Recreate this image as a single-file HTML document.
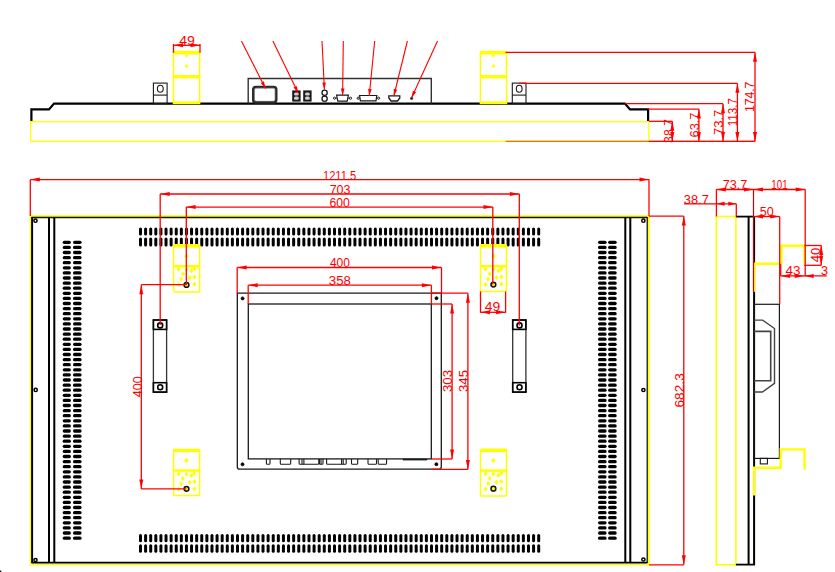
<!DOCTYPE html>
<html><head><meta charset="utf-8"><style>
html,body{margin:0;padding:0;background:#fff;width:835px;height:572px;overflow:hidden}
svg{display:block}
text{font-family:"Liberation Sans",sans-serif}
</style></head><body>
<svg width="835" height="572" viewBox="0 0 835 572">
<rect x="0" y="0" width="835" height="572" fill="#ffffff"/>
<rect x="30.70" y="121.70" width="618.20" height="19.60" rx="0" fill="none" stroke="#ffff00" stroke-width="1.3"/>
<polyline points="31.40,121.00 31.40,109.40 49.00,109.40 54.00,103.60 625.00,103.60 630.00,109.40 648.10,109.40 648.10,121.00" fill="none" stroke="#000000" stroke-width="2.2" stroke-linejoin="miter"/>
<rect x="153.40" y="83.10" width="13.70" height="20.50" rx="0" fill="none" stroke="#1a1a1a" stroke-width="1.1"/>
<line x1="153.40" y1="95.10" x2="167.10" y2="95.10" stroke="#1a1a1a" stroke-width="1.1"/>
<ellipse cx="160.30" cy="88.7" rx="2.9" ry="3.5" fill="none" stroke="#1a1a1a" stroke-width="1.1"/>
<rect x="512.30" y="83.10" width="13.70" height="20.50" rx="0" fill="none" stroke="#1a1a1a" stroke-width="1.1"/>
<line x1="512.30" y1="95.10" x2="526.00" y2="95.10" stroke="#1a1a1a" stroke-width="1.1"/>
<ellipse cx="519.20" cy="88.7" rx="2.9" ry="3.5" fill="none" stroke="#1a1a1a" stroke-width="1.1"/>
<rect x="173.50" y="51.60" width="26.10" height="51.80" rx="0" fill="none" stroke="#ffff00" stroke-width="1.5"/>
<rect x="173.50" y="51.20" width="26.10" height="3.30" rx="0" fill="#ffff00"/>
<rect x="173.50" y="75.00" width="26.10" height="3.40" rx="0" fill="#ffff00"/>
<rect x="173.50" y="101.40" width="26.10" height="2.60" rx="0" fill="#ffff00"/>
<line x1="184.55" y1="66.00" x2="188.55" y2="66.00" stroke="#ffff00" stroke-width="1.2"/>
<line x1="186.55" y1="64.00" x2="186.55" y2="68.00" stroke="#ffff00" stroke-width="1.2"/>
<line x1="185.05" y1="55.50" x2="188.05" y2="55.50" stroke="#ffff00" stroke-width="1.2"/>
<line x1="186.55" y1="55.00" x2="186.55" y2="57.50" stroke="#ffff00" stroke-width="1.2"/>
<rect x="480.40" y="51.60" width="26.10" height="51.80" rx="0" fill="none" stroke="#ffff00" stroke-width="1.5"/>
<rect x="480.40" y="51.20" width="26.10" height="3.30" rx="0" fill="#ffff00"/>
<rect x="480.40" y="75.00" width="26.10" height="3.40" rx="0" fill="#ffff00"/>
<rect x="480.40" y="101.40" width="26.10" height="2.60" rx="0" fill="#ffff00"/>
<line x1="491.45" y1="66.00" x2="495.45" y2="66.00" stroke="#ffff00" stroke-width="1.2"/>
<line x1="493.45" y1="64.00" x2="493.45" y2="68.00" stroke="#ffff00" stroke-width="1.2"/>
<line x1="491.95" y1="55.50" x2="494.95" y2="55.50" stroke="#ffff00" stroke-width="1.2"/>
<line x1="493.45" y1="55.00" x2="493.45" y2="57.50" stroke="#ffff00" stroke-width="1.2"/>
<line x1="173.50" y1="45.30" x2="200.00" y2="45.30" stroke="#ff0000" stroke-width="1.3"/>
<line x1="173.50" y1="44.00" x2="173.50" y2="52.80" stroke="#ff0000" stroke-width="1.3"/>
<line x1="200.00" y1="44.00" x2="200.00" y2="52.80" stroke="#ff0000" stroke-width="1.3"/>
<polygon points="173.50,45.30 183.00,43.30 183.00,47.30" fill="#ff0000"/>
<polygon points="200.00,45.30 190.50,47.30 190.50,43.30" fill="#ff0000"/>
<text x="187.00" y="44.80" text-anchor="middle" font-size="12.5" fill="#ff0000" textLength="15.7" lengthAdjust="spacingAndGlyphs">49</text>
<polyline points="248.20,103.60 248.20,78.50 431.30,78.50 431.30,103.60" fill="none" stroke="#333" stroke-width="1.4" stroke-linejoin="miter"/>
<rect x="253.30" y="87.00" width="22.90" height="15.40" rx="2.6" fill="none" stroke="#2a2a2a" stroke-width="2.6"/>
<rect x="254.40" y="88.10" width="20.70" height="13.20" rx="2" fill="none" stroke="#888" stroke-width="0.6"/>
<rect x="292.20" y="90.40" width="8.40" height="11.20" rx="0" fill="#1a1a1a"/>
<rect x="294.00" y="92.40" width="4.80" height="3.20" rx="1.5" fill="#cfcfcf"/>
<rect x="294.00" y="96.60" width="4.80" height="3.20" rx="1.5" fill="#cfcfcf"/>
<rect x="303.20" y="90.40" width="8.40" height="11.20" rx="0" fill="#1a1a1a"/>
<rect x="305.00" y="92.40" width="4.80" height="3.20" rx="1.5" fill="#cfcfcf"/>
<rect x="305.00" y="96.60" width="4.80" height="3.20" rx="1.5" fill="#cfcfcf"/>
<circle cx="324.60" cy="92.80" r="2.6" fill="none" stroke="#1a1a1a" stroke-width="1.3"/>
<circle cx="324.60" cy="98.80" r="2.6" fill="none" stroke="#1a1a1a" stroke-width="1.3"/>
<polygon points="336.60,95.20 348.40,95.20 347.20,101.20 337.80,101.20" fill="none" stroke="#1a1a1a" stroke-width="1.2" stroke-linejoin="miter"/>
<circle cx="334.50" cy="98.20" r="1.1" fill="none" stroke="#1a1a1a" stroke-width="1"/>
<circle cx="350.50" cy="98.20" r="1.1" fill="none" stroke="#1a1a1a" stroke-width="1"/>
<line x1="335.60" y1="98.20" x2="336.80" y2="98.20" stroke="#1a1a1a" stroke-width="1"/>
<line x1="348.20" y1="98.20" x2="349.40" y2="98.20" stroke="#1a1a1a" stroke-width="1"/>
<polygon points="359.60,95.50 376.80,95.50 376.00,100.80 360.40,100.80" fill="none" stroke="#1a1a1a" stroke-width="1.2" stroke-linejoin="miter"/>
<circle cx="358.20" cy="98.20" r="1.1" fill="none" stroke="#1a1a1a" stroke-width="1"/>
<circle cx="378.60" cy="98.20" r="1.1" fill="none" stroke="#1a1a1a" stroke-width="1"/>
<polygon points="388.80,95.80 399.80,95.80 399.80,98.00 397.50,101.00 391.00,101.00 388.80,98.00" fill="none" stroke="#1a1a1a" stroke-width="1.3" stroke-linejoin="miter"/>
<circle cx="411.60" cy="98.40" r="1.2" fill="#1a1a1a" stroke="#1a1a1a" stroke-width="0.5"/>
<line x1="241.40" y1="41.00" x2="265.50" y2="88.40" stroke="#ff0000" stroke-width="1.1"/>
<polygon points="265.50,88.40 260.72,82.98 263.93,81.34" fill="#ff0000"/>
<line x1="272.90" y1="41.00" x2="298.20" y2="93.00" stroke="#ff0000" stroke-width="1.1"/>
<polygon points="298.20,93.00 293.52,87.49 296.76,85.92" fill="#ff0000"/>
<line x1="322.00" y1="41.00" x2="324.40" y2="89.60" stroke="#ff0000" stroke-width="1.1"/>
<polygon points="324.40,89.60 322.26,82.70 325.85,82.52" fill="#ff0000"/>
<line x1="343.30" y1="41.00" x2="342.60" y2="95.50" stroke="#ff0000" stroke-width="1.1"/>
<polygon points="342.60,95.50 340.89,88.48 344.49,88.52" fill="#ff0000"/>
<line x1="374.70" y1="41.00" x2="369.20" y2="96.00" stroke="#ff0000" stroke-width="1.1"/>
<polygon points="369.20,96.00 368.11,88.86 371.69,89.21" fill="#ff0000"/>
<line x1="407.40" y1="41.00" x2="393.80" y2="96.00" stroke="#ff0000" stroke-width="1.1"/>
<polygon points="393.80,96.00 393.73,88.77 397.23,89.64" fill="#ff0000"/>
<line x1="437.50" y1="41.00" x2="411.60" y2="97.80" stroke="#ff0000" stroke-width="1.1"/>
<polygon points="411.60,97.80 412.87,90.68 416.14,92.18" fill="#ff0000"/>
<line x1="505.50" y1="52.30" x2="755.00" y2="52.30" stroke="#ff0000" stroke-width="1.3"/>
<line x1="519.30" y1="83.30" x2="737.40" y2="83.30" stroke="#ff0000" stroke-width="1.3"/>
<line x1="625.00" y1="103.70" x2="723.00" y2="103.70" stroke="#ff0000" stroke-width="1.3"/>
<line x1="648.00" y1="109.10" x2="698.90" y2="109.10" stroke="#ff0000" stroke-width="1.3"/>
<line x1="648.90" y1="121.30" x2="672.30" y2="121.30" stroke="#ff0000" stroke-width="1.3"/>
<line x1="505.50" y1="141.40" x2="755.00" y2="141.40" stroke="#ff6a00" stroke-width="1.2"/>
<line x1="648.90" y1="141.40" x2="755.00" y2="141.40" stroke="#ff0000" stroke-width="1.3"/>
<line x1="755.00" y1="52.30" x2="755.00" y2="141.40" stroke="#ff0000" stroke-width="1.3"/>
<polygon points="755.00,52.30 757.00,61.80 753.00,61.80" fill="#ff0000"/>
<polygon points="755.00,141.40 753.00,131.90 757.00,131.90" fill="#ff0000"/>
<line x1="737.40" y1="83.30" x2="737.40" y2="141.40" stroke="#ff0000" stroke-width="1.3"/>
<polygon points="737.40,83.30 739.40,92.80 735.40,92.80" fill="#ff0000"/>
<polygon points="737.40,141.40 735.40,131.90 739.40,131.90" fill="#ff0000"/>
<line x1="723.00" y1="103.70" x2="723.00" y2="141.40" stroke="#ff0000" stroke-width="1.3"/>
<polygon points="723.00,103.70 725.00,113.20 721.00,113.20" fill="#ff0000"/>
<polygon points="723.00,141.40 721.00,131.90 725.00,131.90" fill="#ff0000"/>
<line x1="698.90" y1="109.10" x2="698.90" y2="141.40" stroke="#ff0000" stroke-width="1.3"/>
<polygon points="698.90,109.10 700.90,118.60 696.90,118.60" fill="#ff0000"/>
<polygon points="698.90,141.40 696.90,131.90 700.90,131.90" fill="#ff0000"/>
<line x1="672.30" y1="121.30" x2="672.30" y2="141.40" stroke="#ff0000" stroke-width="1.3"/>
<polygon points="672.30,121.30 674.30,130.80 670.30,130.80" fill="#ff0000"/>
<polygon points="672.30,141.40 670.30,131.90 674.30,131.90" fill="#ff0000"/>
<text x="0" y="0" transform="translate(754.30,96.90) rotate(-90)" text-anchor="middle" font-size="12.5" fill="#ff0000" textLength="30.4" lengthAdjust="spacingAndGlyphs">174.7</text>
<text x="0" y="0" transform="translate(737.40,112.20) rotate(-90)" text-anchor="middle" font-size="12.5" fill="#ff0000" textLength="28" lengthAdjust="spacingAndGlyphs">113.7</text>
<text x="0" y="0" transform="translate(722.50,122.40) rotate(-90)" text-anchor="middle" font-size="12.5" fill="#ff0000" textLength="25.4" lengthAdjust="spacingAndGlyphs">73.7</text>
<text x="0" y="0" transform="translate(698.60,125.00) rotate(-90)" text-anchor="middle" font-size="12.5" fill="#ff0000" textLength="25" lengthAdjust="spacingAndGlyphs">63.7</text>
<text x="0" y="0" transform="translate(672.60,131.00) rotate(-90)" text-anchor="middle" font-size="12.5" fill="#ff0000" textLength="23.9" lengthAdjust="spacingAndGlyphs">38.7</text>
<rect x="30.60" y="216.10" width="618.20" height="348.30" rx="0" fill="none" stroke="#ffff00" stroke-width="1.8"/>
<line x1="31.60" y1="217.50" x2="647.30" y2="217.50" stroke="#111" stroke-width="1.3"/>
<line x1="31.60" y1="562.60" x2="647.30" y2="562.60" stroke="#000000" stroke-width="1.8"/>
<line x1="32.10" y1="217.00" x2="32.10" y2="563.00" stroke="#000000" stroke-width="2"/>
<line x1="647.20" y1="217.00" x2="647.20" y2="563.00" stroke="#000000" stroke-width="1.2"/>
<line x1="49.00" y1="217.50" x2="49.00" y2="562.50" stroke="#000000" stroke-width="2"/>
<line x1="54.30" y1="217.50" x2="54.30" y2="562.50" stroke="#000000" stroke-width="2"/>
<line x1="625.30" y1="217.50" x2="625.30" y2="562.50" stroke="#000000" stroke-width="2"/>
<line x1="630.30" y1="217.50" x2="630.30" y2="562.50" stroke="#000000" stroke-width="2"/>
<circle cx="35.50" cy="220.70" r="1.6" fill="none" stroke="#000000" stroke-width="1.5"/>
<circle cx="35.70" cy="389.90" r="1.6" fill="none" stroke="#000000" stroke-width="1.5"/>
<circle cx="35.50" cy="560.00" r="1.6" fill="none" stroke="#000000" stroke-width="1.5"/>
<circle cx="643.40" cy="220.70" r="1.6" fill="none" stroke="#000000" stroke-width="1.5"/>
<circle cx="643.40" cy="390.00" r="1.6" fill="none" stroke="#000000" stroke-width="1.5"/>
<circle cx="643.40" cy="559.50" r="1.6" fill="none" stroke="#000000" stroke-width="1.5"/>
<rect x="62.70" y="240.65" width="8.20" height="3.30" rx="1.6" fill="#000000"/>
<rect x="73.00" y="240.65" width="8.60" height="3.30" rx="1.6" fill="#000000"/>
<rect x="598.00" y="240.65" width="8.60" height="3.30" rx="1.6" fill="#000000"/>
<rect x="608.10" y="240.65" width="8.60" height="3.30" rx="1.6" fill="#000000"/>
<rect x="62.70" y="245.75" width="8.20" height="3.30" rx="1.6" fill="#000000"/>
<rect x="73.00" y="245.75" width="8.60" height="3.30" rx="1.6" fill="#000000"/>
<rect x="598.00" y="245.75" width="8.60" height="3.30" rx="1.6" fill="#000000"/>
<rect x="608.10" y="245.75" width="8.60" height="3.30" rx="1.6" fill="#000000"/>
<rect x="62.70" y="250.85" width="8.20" height="3.30" rx="1.6" fill="#000000"/>
<rect x="73.00" y="250.85" width="8.60" height="3.30" rx="1.6" fill="#000000"/>
<rect x="598.00" y="250.85" width="8.60" height="3.30" rx="1.6" fill="#000000"/>
<rect x="608.10" y="250.85" width="8.60" height="3.30" rx="1.6" fill="#000000"/>
<rect x="62.70" y="255.95" width="8.20" height="3.30" rx="1.6" fill="#000000"/>
<rect x="73.00" y="255.95" width="8.60" height="3.30" rx="1.6" fill="#000000"/>
<rect x="598.00" y="255.95" width="8.60" height="3.30" rx="1.6" fill="#000000"/>
<rect x="608.10" y="255.95" width="8.60" height="3.30" rx="1.6" fill="#000000"/>
<rect x="62.70" y="261.05" width="8.20" height="3.30" rx="1.6" fill="#000000"/>
<rect x="73.00" y="261.05" width="8.60" height="3.30" rx="1.6" fill="#000000"/>
<rect x="598.00" y="261.05" width="8.60" height="3.30" rx="1.6" fill="#000000"/>
<rect x="608.10" y="261.05" width="8.60" height="3.30" rx="1.6" fill="#000000"/>
<rect x="62.70" y="266.15" width="8.20" height="3.30" rx="1.6" fill="#000000"/>
<rect x="73.00" y="266.15" width="8.60" height="3.30" rx="1.6" fill="#000000"/>
<rect x="598.00" y="266.15" width="8.60" height="3.30" rx="1.6" fill="#000000"/>
<rect x="608.10" y="266.15" width="8.60" height="3.30" rx="1.6" fill="#000000"/>
<rect x="62.70" y="271.25" width="8.20" height="3.30" rx="1.6" fill="#000000"/>
<rect x="73.00" y="271.25" width="8.60" height="3.30" rx="1.6" fill="#000000"/>
<rect x="598.00" y="271.25" width="8.60" height="3.30" rx="1.6" fill="#000000"/>
<rect x="608.10" y="271.25" width="8.60" height="3.30" rx="1.6" fill="#000000"/>
<rect x="62.70" y="276.35" width="8.20" height="3.30" rx="1.6" fill="#000000"/>
<rect x="73.00" y="276.35" width="8.60" height="3.30" rx="1.6" fill="#000000"/>
<rect x="598.00" y="276.35" width="8.60" height="3.30" rx="1.6" fill="#000000"/>
<rect x="608.10" y="276.35" width="8.60" height="3.30" rx="1.6" fill="#000000"/>
<rect x="62.70" y="281.45" width="8.20" height="3.30" rx="1.6" fill="#000000"/>
<rect x="73.00" y="281.45" width="8.60" height="3.30" rx="1.6" fill="#000000"/>
<rect x="598.00" y="281.45" width="8.60" height="3.30" rx="1.6" fill="#000000"/>
<rect x="608.10" y="281.45" width="8.60" height="3.30" rx="1.6" fill="#000000"/>
<rect x="62.70" y="286.55" width="8.20" height="3.30" rx="1.6" fill="#000000"/>
<rect x="73.00" y="286.55" width="8.60" height="3.30" rx="1.6" fill="#000000"/>
<rect x="598.00" y="286.55" width="8.60" height="3.30" rx="1.6" fill="#000000"/>
<rect x="608.10" y="286.55" width="8.60" height="3.30" rx="1.6" fill="#000000"/>
<rect x="62.70" y="291.65" width="8.20" height="3.30" rx="1.6" fill="#000000"/>
<rect x="73.00" y="291.65" width="8.60" height="3.30" rx="1.6" fill="#000000"/>
<rect x="598.00" y="291.65" width="8.60" height="3.30" rx="1.6" fill="#000000"/>
<rect x="608.10" y="291.65" width="8.60" height="3.30" rx="1.6" fill="#000000"/>
<rect x="62.70" y="296.75" width="8.20" height="3.30" rx="1.6" fill="#000000"/>
<rect x="73.00" y="296.75" width="8.60" height="3.30" rx="1.6" fill="#000000"/>
<rect x="598.00" y="296.75" width="8.60" height="3.30" rx="1.6" fill="#000000"/>
<rect x="608.10" y="296.75" width="8.60" height="3.30" rx="1.6" fill="#000000"/>
<rect x="62.70" y="301.85" width="8.20" height="3.30" rx="1.6" fill="#000000"/>
<rect x="73.00" y="301.85" width="8.60" height="3.30" rx="1.6" fill="#000000"/>
<rect x="598.00" y="301.85" width="8.60" height="3.30" rx="1.6" fill="#000000"/>
<rect x="608.10" y="301.85" width="8.60" height="3.30" rx="1.6" fill="#000000"/>
<rect x="62.70" y="306.95" width="8.20" height="3.30" rx="1.6" fill="#000000"/>
<rect x="73.00" y="306.95" width="8.60" height="3.30" rx="1.6" fill="#000000"/>
<rect x="598.00" y="306.95" width="8.60" height="3.30" rx="1.6" fill="#000000"/>
<rect x="608.10" y="306.95" width="8.60" height="3.30" rx="1.6" fill="#000000"/>
<rect x="62.70" y="312.05" width="8.20" height="3.30" rx="1.6" fill="#000000"/>
<rect x="73.00" y="312.05" width="8.60" height="3.30" rx="1.6" fill="#000000"/>
<rect x="598.00" y="312.05" width="8.60" height="3.30" rx="1.6" fill="#000000"/>
<rect x="608.10" y="312.05" width="8.60" height="3.30" rx="1.6" fill="#000000"/>
<rect x="62.70" y="317.15" width="8.20" height="3.30" rx="1.6" fill="#000000"/>
<rect x="73.00" y="317.15" width="8.60" height="3.30" rx="1.6" fill="#000000"/>
<rect x="598.00" y="317.15" width="8.60" height="3.30" rx="1.6" fill="#000000"/>
<rect x="608.10" y="317.15" width="8.60" height="3.30" rx="1.6" fill="#000000"/>
<rect x="62.70" y="322.25" width="8.20" height="3.30" rx="1.6" fill="#000000"/>
<rect x="73.00" y="322.25" width="8.60" height="3.30" rx="1.6" fill="#000000"/>
<rect x="598.00" y="322.25" width="8.60" height="3.30" rx="1.6" fill="#000000"/>
<rect x="608.10" y="322.25" width="8.60" height="3.30" rx="1.6" fill="#000000"/>
<rect x="62.70" y="327.35" width="8.20" height="3.30" rx="1.6" fill="#000000"/>
<rect x="73.00" y="327.35" width="8.60" height="3.30" rx="1.6" fill="#000000"/>
<rect x="598.00" y="327.35" width="8.60" height="3.30" rx="1.6" fill="#000000"/>
<rect x="608.10" y="327.35" width="8.60" height="3.30" rx="1.6" fill="#000000"/>
<rect x="62.70" y="332.45" width="8.20" height="3.30" rx="1.6" fill="#000000"/>
<rect x="73.00" y="332.45" width="8.60" height="3.30" rx="1.6" fill="#000000"/>
<rect x="598.00" y="332.45" width="8.60" height="3.30" rx="1.6" fill="#000000"/>
<rect x="608.10" y="332.45" width="8.60" height="3.30" rx="1.6" fill="#000000"/>
<rect x="62.70" y="337.55" width="8.20" height="3.30" rx="1.6" fill="#000000"/>
<rect x="73.00" y="337.55" width="8.60" height="3.30" rx="1.6" fill="#000000"/>
<rect x="598.00" y="337.55" width="8.60" height="3.30" rx="1.6" fill="#000000"/>
<rect x="608.10" y="337.55" width="8.60" height="3.30" rx="1.6" fill="#000000"/>
<rect x="62.70" y="342.65" width="8.20" height="3.30" rx="1.6" fill="#000000"/>
<rect x="73.00" y="342.65" width="8.60" height="3.30" rx="1.6" fill="#000000"/>
<rect x="598.00" y="342.65" width="8.60" height="3.30" rx="1.6" fill="#000000"/>
<rect x="608.10" y="342.65" width="8.60" height="3.30" rx="1.6" fill="#000000"/>
<rect x="62.70" y="347.75" width="8.20" height="3.30" rx="1.6" fill="#000000"/>
<rect x="73.00" y="347.75" width="8.60" height="3.30" rx="1.6" fill="#000000"/>
<rect x="598.00" y="347.75" width="8.60" height="3.30" rx="1.6" fill="#000000"/>
<rect x="608.10" y="347.75" width="8.60" height="3.30" rx="1.6" fill="#000000"/>
<rect x="62.70" y="352.85" width="8.20" height="3.30" rx="1.6" fill="#000000"/>
<rect x="73.00" y="352.85" width="8.60" height="3.30" rx="1.6" fill="#000000"/>
<rect x="598.00" y="352.85" width="8.60" height="3.30" rx="1.6" fill="#000000"/>
<rect x="608.10" y="352.85" width="8.60" height="3.30" rx="1.6" fill="#000000"/>
<rect x="62.70" y="357.95" width="8.20" height="3.30" rx="1.6" fill="#000000"/>
<rect x="73.00" y="357.95" width="8.60" height="3.30" rx="1.6" fill="#000000"/>
<rect x="598.00" y="357.95" width="8.60" height="3.30" rx="1.6" fill="#000000"/>
<rect x="608.10" y="357.95" width="8.60" height="3.30" rx="1.6" fill="#000000"/>
<rect x="62.70" y="363.05" width="8.20" height="3.30" rx="1.6" fill="#000000"/>
<rect x="73.00" y="363.05" width="8.60" height="3.30" rx="1.6" fill="#000000"/>
<rect x="598.00" y="363.05" width="8.60" height="3.30" rx="1.6" fill="#000000"/>
<rect x="608.10" y="363.05" width="8.60" height="3.30" rx="1.6" fill="#000000"/>
<rect x="62.70" y="368.15" width="8.20" height="3.30" rx="1.6" fill="#000000"/>
<rect x="73.00" y="368.15" width="8.60" height="3.30" rx="1.6" fill="#000000"/>
<rect x="598.00" y="368.15" width="8.60" height="3.30" rx="1.6" fill="#000000"/>
<rect x="608.10" y="368.15" width="8.60" height="3.30" rx="1.6" fill="#000000"/>
<rect x="62.70" y="373.25" width="8.20" height="3.30" rx="1.6" fill="#000000"/>
<rect x="73.00" y="373.25" width="8.60" height="3.30" rx="1.6" fill="#000000"/>
<rect x="598.00" y="373.25" width="8.60" height="3.30" rx="1.6" fill="#000000"/>
<rect x="608.10" y="373.25" width="8.60" height="3.30" rx="1.6" fill="#000000"/>
<rect x="62.70" y="378.35" width="8.20" height="3.30" rx="1.6" fill="#000000"/>
<rect x="73.00" y="378.35" width="8.60" height="3.30" rx="1.6" fill="#000000"/>
<rect x="598.00" y="378.35" width="8.60" height="3.30" rx="1.6" fill="#000000"/>
<rect x="608.10" y="378.35" width="8.60" height="3.30" rx="1.6" fill="#000000"/>
<rect x="62.70" y="383.45" width="8.20" height="3.30" rx="1.6" fill="#000000"/>
<rect x="73.00" y="383.45" width="8.60" height="3.30" rx="1.6" fill="#000000"/>
<rect x="598.00" y="383.45" width="8.60" height="3.30" rx="1.6" fill="#000000"/>
<rect x="608.10" y="383.45" width="8.60" height="3.30" rx="1.6" fill="#000000"/>
<rect x="62.70" y="388.55" width="8.20" height="3.30" rx="1.6" fill="#000000"/>
<rect x="73.00" y="388.55" width="8.60" height="3.30" rx="1.6" fill="#000000"/>
<rect x="598.00" y="388.55" width="8.60" height="3.30" rx="1.6" fill="#000000"/>
<rect x="608.10" y="388.55" width="8.60" height="3.30" rx="1.6" fill="#000000"/>
<rect x="62.70" y="393.65" width="8.20" height="3.30" rx="1.6" fill="#000000"/>
<rect x="73.00" y="393.65" width="8.60" height="3.30" rx="1.6" fill="#000000"/>
<rect x="598.00" y="393.65" width="8.60" height="3.30" rx="1.6" fill="#000000"/>
<rect x="608.10" y="393.65" width="8.60" height="3.30" rx="1.6" fill="#000000"/>
<rect x="62.70" y="398.75" width="8.20" height="3.30" rx="1.6" fill="#000000"/>
<rect x="73.00" y="398.75" width="8.60" height="3.30" rx="1.6" fill="#000000"/>
<rect x="598.00" y="398.75" width="8.60" height="3.30" rx="1.6" fill="#000000"/>
<rect x="608.10" y="398.75" width="8.60" height="3.30" rx="1.6" fill="#000000"/>
<rect x="62.70" y="403.85" width="8.20" height="3.30" rx="1.6" fill="#000000"/>
<rect x="73.00" y="403.85" width="8.60" height="3.30" rx="1.6" fill="#000000"/>
<rect x="598.00" y="403.85" width="8.60" height="3.30" rx="1.6" fill="#000000"/>
<rect x="608.10" y="403.85" width="8.60" height="3.30" rx="1.6" fill="#000000"/>
<rect x="62.70" y="408.95" width="8.20" height="3.30" rx="1.6" fill="#000000"/>
<rect x="73.00" y="408.95" width="8.60" height="3.30" rx="1.6" fill="#000000"/>
<rect x="598.00" y="408.95" width="8.60" height="3.30" rx="1.6" fill="#000000"/>
<rect x="608.10" y="408.95" width="8.60" height="3.30" rx="1.6" fill="#000000"/>
<rect x="62.70" y="414.05" width="8.20" height="3.30" rx="1.6" fill="#000000"/>
<rect x="73.00" y="414.05" width="8.60" height="3.30" rx="1.6" fill="#000000"/>
<rect x="598.00" y="414.05" width="8.60" height="3.30" rx="1.6" fill="#000000"/>
<rect x="608.10" y="414.05" width="8.60" height="3.30" rx="1.6" fill="#000000"/>
<rect x="62.70" y="419.15" width="8.20" height="3.30" rx="1.6" fill="#000000"/>
<rect x="73.00" y="419.15" width="8.60" height="3.30" rx="1.6" fill="#000000"/>
<rect x="598.00" y="419.15" width="8.60" height="3.30" rx="1.6" fill="#000000"/>
<rect x="608.10" y="419.15" width="8.60" height="3.30" rx="1.6" fill="#000000"/>
<rect x="62.70" y="424.25" width="8.20" height="3.30" rx="1.6" fill="#000000"/>
<rect x="73.00" y="424.25" width="8.60" height="3.30" rx="1.6" fill="#000000"/>
<rect x="598.00" y="424.25" width="8.60" height="3.30" rx="1.6" fill="#000000"/>
<rect x="608.10" y="424.25" width="8.60" height="3.30" rx="1.6" fill="#000000"/>
<rect x="62.70" y="429.35" width="8.20" height="3.30" rx="1.6" fill="#000000"/>
<rect x="73.00" y="429.35" width="8.60" height="3.30" rx="1.6" fill="#000000"/>
<rect x="598.00" y="429.35" width="8.60" height="3.30" rx="1.6" fill="#000000"/>
<rect x="608.10" y="429.35" width="8.60" height="3.30" rx="1.6" fill="#000000"/>
<rect x="62.70" y="434.45" width="8.20" height="3.30" rx="1.6" fill="#000000"/>
<rect x="73.00" y="434.45" width="8.60" height="3.30" rx="1.6" fill="#000000"/>
<rect x="598.00" y="434.45" width="8.60" height="3.30" rx="1.6" fill="#000000"/>
<rect x="608.10" y="434.45" width="8.60" height="3.30" rx="1.6" fill="#000000"/>
<rect x="62.70" y="439.55" width="8.20" height="3.30" rx="1.6" fill="#000000"/>
<rect x="73.00" y="439.55" width="8.60" height="3.30" rx="1.6" fill="#000000"/>
<rect x="598.00" y="439.55" width="8.60" height="3.30" rx="1.6" fill="#000000"/>
<rect x="608.10" y="439.55" width="8.60" height="3.30" rx="1.6" fill="#000000"/>
<rect x="62.70" y="444.65" width="8.20" height="3.30" rx="1.6" fill="#000000"/>
<rect x="73.00" y="444.65" width="8.60" height="3.30" rx="1.6" fill="#000000"/>
<rect x="598.00" y="444.65" width="8.60" height="3.30" rx="1.6" fill="#000000"/>
<rect x="608.10" y="444.65" width="8.60" height="3.30" rx="1.6" fill="#000000"/>
<rect x="62.70" y="449.75" width="8.20" height="3.30" rx="1.6" fill="#000000"/>
<rect x="73.00" y="449.75" width="8.60" height="3.30" rx="1.6" fill="#000000"/>
<rect x="598.00" y="449.75" width="8.60" height="3.30" rx="1.6" fill="#000000"/>
<rect x="608.10" y="449.75" width="8.60" height="3.30" rx="1.6" fill="#000000"/>
<rect x="62.70" y="454.85" width="8.20" height="3.30" rx="1.6" fill="#000000"/>
<rect x="73.00" y="454.85" width="8.60" height="3.30" rx="1.6" fill="#000000"/>
<rect x="598.00" y="454.85" width="8.60" height="3.30" rx="1.6" fill="#000000"/>
<rect x="608.10" y="454.85" width="8.60" height="3.30" rx="1.6" fill="#000000"/>
<rect x="62.70" y="459.95" width="8.20" height="3.30" rx="1.6" fill="#000000"/>
<rect x="73.00" y="459.95" width="8.60" height="3.30" rx="1.6" fill="#000000"/>
<rect x="598.00" y="459.95" width="8.60" height="3.30" rx="1.6" fill="#000000"/>
<rect x="608.10" y="459.95" width="8.60" height="3.30" rx="1.6" fill="#000000"/>
<rect x="62.70" y="465.05" width="8.20" height="3.30" rx="1.6" fill="#000000"/>
<rect x="73.00" y="465.05" width="8.60" height="3.30" rx="1.6" fill="#000000"/>
<rect x="598.00" y="465.05" width="8.60" height="3.30" rx="1.6" fill="#000000"/>
<rect x="608.10" y="465.05" width="8.60" height="3.30" rx="1.6" fill="#000000"/>
<rect x="62.70" y="470.15" width="8.20" height="3.30" rx="1.6" fill="#000000"/>
<rect x="73.00" y="470.15" width="8.60" height="3.30" rx="1.6" fill="#000000"/>
<rect x="598.00" y="470.15" width="8.60" height="3.30" rx="1.6" fill="#000000"/>
<rect x="608.10" y="470.15" width="8.60" height="3.30" rx="1.6" fill="#000000"/>
<rect x="62.70" y="475.25" width="8.20" height="3.30" rx="1.6" fill="#000000"/>
<rect x="73.00" y="475.25" width="8.60" height="3.30" rx="1.6" fill="#000000"/>
<rect x="598.00" y="475.25" width="8.60" height="3.30" rx="1.6" fill="#000000"/>
<rect x="608.10" y="475.25" width="8.60" height="3.30" rx="1.6" fill="#000000"/>
<rect x="62.70" y="480.35" width="8.20" height="3.30" rx="1.6" fill="#000000"/>
<rect x="73.00" y="480.35" width="8.60" height="3.30" rx="1.6" fill="#000000"/>
<rect x="598.00" y="480.35" width="8.60" height="3.30" rx="1.6" fill="#000000"/>
<rect x="608.10" y="480.35" width="8.60" height="3.30" rx="1.6" fill="#000000"/>
<rect x="62.70" y="485.45" width="8.20" height="3.30" rx="1.6" fill="#000000"/>
<rect x="73.00" y="485.45" width="8.60" height="3.30" rx="1.6" fill="#000000"/>
<rect x="598.00" y="485.45" width="8.60" height="3.30" rx="1.6" fill="#000000"/>
<rect x="608.10" y="485.45" width="8.60" height="3.30" rx="1.6" fill="#000000"/>
<rect x="62.70" y="490.55" width="8.20" height="3.30" rx="1.6" fill="#000000"/>
<rect x="73.00" y="490.55" width="8.60" height="3.30" rx="1.6" fill="#000000"/>
<rect x="598.00" y="490.55" width="8.60" height="3.30" rx="1.6" fill="#000000"/>
<rect x="608.10" y="490.55" width="8.60" height="3.30" rx="1.6" fill="#000000"/>
<rect x="62.70" y="495.65" width="8.20" height="3.30" rx="1.6" fill="#000000"/>
<rect x="73.00" y="495.65" width="8.60" height="3.30" rx="1.6" fill="#000000"/>
<rect x="598.00" y="495.65" width="8.60" height="3.30" rx="1.6" fill="#000000"/>
<rect x="608.10" y="495.65" width="8.60" height="3.30" rx="1.6" fill="#000000"/>
<rect x="62.70" y="500.75" width="8.20" height="3.30" rx="1.6" fill="#000000"/>
<rect x="73.00" y="500.75" width="8.60" height="3.30" rx="1.6" fill="#000000"/>
<rect x="598.00" y="500.75" width="8.60" height="3.30" rx="1.6" fill="#000000"/>
<rect x="608.10" y="500.75" width="8.60" height="3.30" rx="1.6" fill="#000000"/>
<rect x="62.70" y="505.85" width="8.20" height="3.30" rx="1.6" fill="#000000"/>
<rect x="73.00" y="505.85" width="8.60" height="3.30" rx="1.6" fill="#000000"/>
<rect x="598.00" y="505.85" width="8.60" height="3.30" rx="1.6" fill="#000000"/>
<rect x="608.10" y="505.85" width="8.60" height="3.30" rx="1.6" fill="#000000"/>
<rect x="62.70" y="510.95" width="8.20" height="3.30" rx="1.6" fill="#000000"/>
<rect x="73.00" y="510.95" width="8.60" height="3.30" rx="1.6" fill="#000000"/>
<rect x="598.00" y="510.95" width="8.60" height="3.30" rx="1.6" fill="#000000"/>
<rect x="608.10" y="510.95" width="8.60" height="3.30" rx="1.6" fill="#000000"/>
<rect x="62.70" y="516.05" width="8.20" height="3.30" rx="1.6" fill="#000000"/>
<rect x="73.00" y="516.05" width="8.60" height="3.30" rx="1.6" fill="#000000"/>
<rect x="598.00" y="516.05" width="8.60" height="3.30" rx="1.6" fill="#000000"/>
<rect x="608.10" y="516.05" width="8.60" height="3.30" rx="1.6" fill="#000000"/>
<rect x="62.70" y="521.15" width="8.20" height="3.30" rx="1.6" fill="#000000"/>
<rect x="73.00" y="521.15" width="8.60" height="3.30" rx="1.6" fill="#000000"/>
<rect x="598.00" y="521.15" width="8.60" height="3.30" rx="1.6" fill="#000000"/>
<rect x="608.10" y="521.15" width="8.60" height="3.30" rx="1.6" fill="#000000"/>
<rect x="62.70" y="526.25" width="8.20" height="3.30" rx="1.6" fill="#000000"/>
<rect x="73.00" y="526.25" width="8.60" height="3.30" rx="1.6" fill="#000000"/>
<rect x="598.00" y="526.25" width="8.60" height="3.30" rx="1.6" fill="#000000"/>
<rect x="608.10" y="526.25" width="8.60" height="3.30" rx="1.6" fill="#000000"/>
<rect x="62.70" y="531.35" width="8.20" height="3.30" rx="1.6" fill="#000000"/>
<rect x="73.00" y="531.35" width="8.60" height="3.30" rx="1.6" fill="#000000"/>
<rect x="598.00" y="531.35" width="8.60" height="3.30" rx="1.6" fill="#000000"/>
<rect x="608.10" y="531.35" width="8.60" height="3.30" rx="1.6" fill="#000000"/>
<rect x="62.70" y="536.45" width="8.20" height="3.30" rx="1.6" fill="#000000"/>
<rect x="73.00" y="536.45" width="8.60" height="3.30" rx="1.6" fill="#000000"/>
<rect x="598.00" y="536.45" width="8.60" height="3.30" rx="1.6" fill="#000000"/>
<rect x="608.10" y="536.45" width="8.60" height="3.30" rx="1.6" fill="#000000"/>
<rect x="139.00" y="227.40" width="3.00" height="8.00" rx="1.5" fill="#000000"/>
<rect x="139.00" y="237.60" width="3.00" height="9.00" rx="1.5" fill="#000000"/>
<rect x="139.00" y="534.10" width="3.00" height="8.10" rx="1.5" fill="#000000"/>
<rect x="139.00" y="544.20" width="3.00" height="8.50" rx="1.5" fill="#000000"/>
<rect x="144.10" y="227.40" width="3.00" height="8.00" rx="1.5" fill="#000000"/>
<rect x="144.10" y="237.60" width="3.00" height="9.00" rx="1.5" fill="#000000"/>
<rect x="144.10" y="534.10" width="3.00" height="8.10" rx="1.5" fill="#000000"/>
<rect x="144.10" y="544.20" width="3.00" height="8.50" rx="1.5" fill="#000000"/>
<rect x="149.21" y="227.40" width="3.00" height="8.00" rx="1.5" fill="#000000"/>
<rect x="149.21" y="237.60" width="3.00" height="9.00" rx="1.5" fill="#000000"/>
<rect x="149.21" y="534.10" width="3.00" height="8.10" rx="1.5" fill="#000000"/>
<rect x="149.21" y="544.20" width="3.00" height="8.50" rx="1.5" fill="#000000"/>
<rect x="154.31" y="227.40" width="3.00" height="8.00" rx="1.5" fill="#000000"/>
<rect x="154.31" y="237.60" width="3.00" height="9.00" rx="1.5" fill="#000000"/>
<rect x="154.31" y="534.10" width="3.00" height="8.10" rx="1.5" fill="#000000"/>
<rect x="154.31" y="544.20" width="3.00" height="8.50" rx="1.5" fill="#000000"/>
<rect x="159.42" y="227.40" width="3.00" height="8.00" rx="1.5" fill="#000000"/>
<rect x="159.42" y="237.60" width="3.00" height="9.00" rx="1.5" fill="#000000"/>
<rect x="159.42" y="534.10" width="3.00" height="8.10" rx="1.5" fill="#000000"/>
<rect x="159.42" y="544.20" width="3.00" height="8.50" rx="1.5" fill="#000000"/>
<rect x="164.53" y="227.40" width="3.00" height="8.00" rx="1.5" fill="#000000"/>
<rect x="164.53" y="237.60" width="3.00" height="9.00" rx="1.5" fill="#000000"/>
<rect x="164.53" y="534.10" width="3.00" height="8.10" rx="1.5" fill="#000000"/>
<rect x="164.53" y="544.20" width="3.00" height="8.50" rx="1.5" fill="#000000"/>
<rect x="169.63" y="227.40" width="3.00" height="8.00" rx="1.5" fill="#000000"/>
<rect x="169.63" y="237.60" width="3.00" height="9.00" rx="1.5" fill="#000000"/>
<rect x="169.63" y="534.10" width="3.00" height="8.10" rx="1.5" fill="#000000"/>
<rect x="169.63" y="544.20" width="3.00" height="8.50" rx="1.5" fill="#000000"/>
<rect x="174.74" y="227.40" width="3.00" height="8.00" rx="1.5" fill="#000000"/>
<rect x="174.74" y="237.60" width="3.00" height="9.00" rx="1.5" fill="#000000"/>
<rect x="174.74" y="534.10" width="3.00" height="8.10" rx="1.5" fill="#000000"/>
<rect x="174.74" y="544.20" width="3.00" height="8.50" rx="1.5" fill="#000000"/>
<rect x="179.84" y="227.40" width="3.00" height="8.00" rx="1.5" fill="#000000"/>
<rect x="179.84" y="237.60" width="3.00" height="9.00" rx="1.5" fill="#000000"/>
<rect x="179.84" y="534.10" width="3.00" height="8.10" rx="1.5" fill="#000000"/>
<rect x="179.84" y="544.20" width="3.00" height="8.50" rx="1.5" fill="#000000"/>
<rect x="184.94" y="227.40" width="3.00" height="8.00" rx="1.5" fill="#000000"/>
<rect x="184.94" y="237.60" width="3.00" height="9.00" rx="1.5" fill="#000000"/>
<rect x="184.94" y="534.10" width="3.00" height="8.10" rx="1.5" fill="#000000"/>
<rect x="184.94" y="544.20" width="3.00" height="8.50" rx="1.5" fill="#000000"/>
<rect x="190.05" y="227.40" width="3.00" height="8.00" rx="1.5" fill="#000000"/>
<rect x="190.05" y="237.60" width="3.00" height="9.00" rx="1.5" fill="#000000"/>
<rect x="190.05" y="534.10" width="3.00" height="8.10" rx="1.5" fill="#000000"/>
<rect x="190.05" y="544.20" width="3.00" height="8.50" rx="1.5" fill="#000000"/>
<rect x="195.16" y="227.40" width="3.00" height="8.00" rx="1.5" fill="#000000"/>
<rect x="195.16" y="237.60" width="3.00" height="9.00" rx="1.5" fill="#000000"/>
<rect x="195.16" y="534.10" width="3.00" height="8.10" rx="1.5" fill="#000000"/>
<rect x="195.16" y="544.20" width="3.00" height="8.50" rx="1.5" fill="#000000"/>
<rect x="200.26" y="227.40" width="3.00" height="8.00" rx="1.5" fill="#000000"/>
<rect x="200.26" y="237.60" width="3.00" height="9.00" rx="1.5" fill="#000000"/>
<rect x="200.26" y="534.10" width="3.00" height="8.10" rx="1.5" fill="#000000"/>
<rect x="200.26" y="544.20" width="3.00" height="8.50" rx="1.5" fill="#000000"/>
<rect x="205.37" y="227.40" width="3.00" height="8.00" rx="1.5" fill="#000000"/>
<rect x="205.37" y="237.60" width="3.00" height="9.00" rx="1.5" fill="#000000"/>
<rect x="205.37" y="534.10" width="3.00" height="8.10" rx="1.5" fill="#000000"/>
<rect x="205.37" y="544.20" width="3.00" height="8.50" rx="1.5" fill="#000000"/>
<rect x="210.47" y="227.40" width="3.00" height="8.00" rx="1.5" fill="#000000"/>
<rect x="210.47" y="237.60" width="3.00" height="9.00" rx="1.5" fill="#000000"/>
<rect x="210.47" y="534.10" width="3.00" height="8.10" rx="1.5" fill="#000000"/>
<rect x="210.47" y="544.20" width="3.00" height="8.50" rx="1.5" fill="#000000"/>
<rect x="215.57" y="227.40" width="3.00" height="8.00" rx="1.5" fill="#000000"/>
<rect x="215.57" y="237.60" width="3.00" height="9.00" rx="1.5" fill="#000000"/>
<rect x="215.57" y="534.10" width="3.00" height="8.10" rx="1.5" fill="#000000"/>
<rect x="215.57" y="544.20" width="3.00" height="8.50" rx="1.5" fill="#000000"/>
<rect x="220.68" y="227.40" width="3.00" height="8.00" rx="1.5" fill="#000000"/>
<rect x="220.68" y="237.60" width="3.00" height="9.00" rx="1.5" fill="#000000"/>
<rect x="220.68" y="534.10" width="3.00" height="8.10" rx="1.5" fill="#000000"/>
<rect x="220.68" y="544.20" width="3.00" height="8.50" rx="1.5" fill="#000000"/>
<rect x="225.79" y="227.40" width="3.00" height="8.00" rx="1.5" fill="#000000"/>
<rect x="225.79" y="237.60" width="3.00" height="9.00" rx="1.5" fill="#000000"/>
<rect x="225.79" y="534.10" width="3.00" height="8.10" rx="1.5" fill="#000000"/>
<rect x="225.79" y="544.20" width="3.00" height="8.50" rx="1.5" fill="#000000"/>
<rect x="230.89" y="227.40" width="3.00" height="8.00" rx="1.5" fill="#000000"/>
<rect x="230.89" y="237.60" width="3.00" height="9.00" rx="1.5" fill="#000000"/>
<rect x="230.89" y="534.10" width="3.00" height="8.10" rx="1.5" fill="#000000"/>
<rect x="230.89" y="544.20" width="3.00" height="8.50" rx="1.5" fill="#000000"/>
<rect x="236.00" y="227.40" width="3.00" height="8.00" rx="1.5" fill="#000000"/>
<rect x="236.00" y="237.60" width="3.00" height="9.00" rx="1.5" fill="#000000"/>
<rect x="236.00" y="534.10" width="3.00" height="8.10" rx="1.5" fill="#000000"/>
<rect x="236.00" y="544.20" width="3.00" height="8.50" rx="1.5" fill="#000000"/>
<rect x="241.10" y="227.40" width="3.00" height="8.00" rx="1.5" fill="#000000"/>
<rect x="241.10" y="237.60" width="3.00" height="9.00" rx="1.5" fill="#000000"/>
<rect x="241.10" y="534.10" width="3.00" height="8.10" rx="1.5" fill="#000000"/>
<rect x="241.10" y="544.20" width="3.00" height="8.50" rx="1.5" fill="#000000"/>
<rect x="246.21" y="227.40" width="3.00" height="8.00" rx="1.5" fill="#000000"/>
<rect x="246.21" y="237.60" width="3.00" height="9.00" rx="1.5" fill="#000000"/>
<rect x="246.21" y="534.10" width="3.00" height="8.10" rx="1.5" fill="#000000"/>
<rect x="246.21" y="544.20" width="3.00" height="8.50" rx="1.5" fill="#000000"/>
<rect x="251.31" y="227.40" width="3.00" height="8.00" rx="1.5" fill="#000000"/>
<rect x="251.31" y="237.60" width="3.00" height="9.00" rx="1.5" fill="#000000"/>
<rect x="251.31" y="534.10" width="3.00" height="8.10" rx="1.5" fill="#000000"/>
<rect x="251.31" y="544.20" width="3.00" height="8.50" rx="1.5" fill="#000000"/>
<rect x="256.42" y="227.40" width="3.00" height="8.00" rx="1.5" fill="#000000"/>
<rect x="256.42" y="237.60" width="3.00" height="9.00" rx="1.5" fill="#000000"/>
<rect x="256.42" y="534.10" width="3.00" height="8.10" rx="1.5" fill="#000000"/>
<rect x="256.42" y="544.20" width="3.00" height="8.50" rx="1.5" fill="#000000"/>
<rect x="261.52" y="227.40" width="3.00" height="8.00" rx="1.5" fill="#000000"/>
<rect x="261.52" y="237.60" width="3.00" height="9.00" rx="1.5" fill="#000000"/>
<rect x="261.52" y="534.10" width="3.00" height="8.10" rx="1.5" fill="#000000"/>
<rect x="261.52" y="544.20" width="3.00" height="8.50" rx="1.5" fill="#000000"/>
<rect x="266.62" y="227.40" width="3.00" height="8.00" rx="1.5" fill="#000000"/>
<rect x="266.62" y="237.60" width="3.00" height="9.00" rx="1.5" fill="#000000"/>
<rect x="266.62" y="534.10" width="3.00" height="8.10" rx="1.5" fill="#000000"/>
<rect x="266.62" y="544.20" width="3.00" height="8.50" rx="1.5" fill="#000000"/>
<rect x="271.73" y="227.40" width="3.00" height="8.00" rx="1.5" fill="#000000"/>
<rect x="271.73" y="237.60" width="3.00" height="9.00" rx="1.5" fill="#000000"/>
<rect x="271.73" y="534.10" width="3.00" height="8.10" rx="1.5" fill="#000000"/>
<rect x="271.73" y="544.20" width="3.00" height="8.50" rx="1.5" fill="#000000"/>
<rect x="276.84" y="227.40" width="3.00" height="8.00" rx="1.5" fill="#000000"/>
<rect x="276.84" y="237.60" width="3.00" height="9.00" rx="1.5" fill="#000000"/>
<rect x="276.84" y="534.10" width="3.00" height="8.10" rx="1.5" fill="#000000"/>
<rect x="276.84" y="544.20" width="3.00" height="8.50" rx="1.5" fill="#000000"/>
<rect x="281.94" y="227.40" width="3.00" height="8.00" rx="1.5" fill="#000000"/>
<rect x="281.94" y="237.60" width="3.00" height="9.00" rx="1.5" fill="#000000"/>
<rect x="281.94" y="534.10" width="3.00" height="8.10" rx="1.5" fill="#000000"/>
<rect x="281.94" y="544.20" width="3.00" height="8.50" rx="1.5" fill="#000000"/>
<rect x="287.05" y="227.40" width="3.00" height="8.00" rx="1.5" fill="#000000"/>
<rect x="287.05" y="237.60" width="3.00" height="9.00" rx="1.5" fill="#000000"/>
<rect x="287.05" y="534.10" width="3.00" height="8.10" rx="1.5" fill="#000000"/>
<rect x="287.05" y="544.20" width="3.00" height="8.50" rx="1.5" fill="#000000"/>
<rect x="292.15" y="227.40" width="3.00" height="8.00" rx="1.5" fill="#000000"/>
<rect x="292.15" y="237.60" width="3.00" height="9.00" rx="1.5" fill="#000000"/>
<rect x="292.15" y="534.10" width="3.00" height="8.10" rx="1.5" fill="#000000"/>
<rect x="292.15" y="544.20" width="3.00" height="8.50" rx="1.5" fill="#000000"/>
<rect x="297.25" y="227.40" width="3.00" height="8.00" rx="1.5" fill="#000000"/>
<rect x="297.25" y="237.60" width="3.00" height="9.00" rx="1.5" fill="#000000"/>
<rect x="297.25" y="534.10" width="3.00" height="8.10" rx="1.5" fill="#000000"/>
<rect x="297.25" y="544.20" width="3.00" height="8.50" rx="1.5" fill="#000000"/>
<rect x="302.36" y="227.40" width="3.00" height="8.00" rx="1.5" fill="#000000"/>
<rect x="302.36" y="237.60" width="3.00" height="9.00" rx="1.5" fill="#000000"/>
<rect x="302.36" y="534.10" width="3.00" height="8.10" rx="1.5" fill="#000000"/>
<rect x="302.36" y="544.20" width="3.00" height="8.50" rx="1.5" fill="#000000"/>
<rect x="307.47" y="227.40" width="3.00" height="8.00" rx="1.5" fill="#000000"/>
<rect x="307.47" y="237.60" width="3.00" height="9.00" rx="1.5" fill="#000000"/>
<rect x="307.47" y="534.10" width="3.00" height="8.10" rx="1.5" fill="#000000"/>
<rect x="307.47" y="544.20" width="3.00" height="8.50" rx="1.5" fill="#000000"/>
<rect x="312.57" y="227.40" width="3.00" height="8.00" rx="1.5" fill="#000000"/>
<rect x="312.57" y="237.60" width="3.00" height="9.00" rx="1.5" fill="#000000"/>
<rect x="312.57" y="534.10" width="3.00" height="8.10" rx="1.5" fill="#000000"/>
<rect x="312.57" y="544.20" width="3.00" height="8.50" rx="1.5" fill="#000000"/>
<rect x="317.68" y="227.40" width="3.00" height="8.00" rx="1.5" fill="#000000"/>
<rect x="317.68" y="237.60" width="3.00" height="9.00" rx="1.5" fill="#000000"/>
<rect x="317.68" y="534.10" width="3.00" height="8.10" rx="1.5" fill="#000000"/>
<rect x="317.68" y="544.20" width="3.00" height="8.50" rx="1.5" fill="#000000"/>
<rect x="322.78" y="227.40" width="3.00" height="8.00" rx="1.5" fill="#000000"/>
<rect x="322.78" y="237.60" width="3.00" height="9.00" rx="1.5" fill="#000000"/>
<rect x="322.78" y="534.10" width="3.00" height="8.10" rx="1.5" fill="#000000"/>
<rect x="322.78" y="544.20" width="3.00" height="8.50" rx="1.5" fill="#000000"/>
<rect x="327.88" y="227.40" width="3.00" height="8.00" rx="1.5" fill="#000000"/>
<rect x="327.88" y="237.60" width="3.00" height="9.00" rx="1.5" fill="#000000"/>
<rect x="327.88" y="534.10" width="3.00" height="8.10" rx="1.5" fill="#000000"/>
<rect x="327.88" y="544.20" width="3.00" height="8.50" rx="1.5" fill="#000000"/>
<rect x="332.99" y="227.40" width="3.00" height="8.00" rx="1.5" fill="#000000"/>
<rect x="332.99" y="237.60" width="3.00" height="9.00" rx="1.5" fill="#000000"/>
<rect x="332.99" y="534.10" width="3.00" height="8.10" rx="1.5" fill="#000000"/>
<rect x="332.99" y="544.20" width="3.00" height="8.50" rx="1.5" fill="#000000"/>
<rect x="338.10" y="227.40" width="3.00" height="8.00" rx="1.5" fill="#000000"/>
<rect x="338.10" y="237.60" width="3.00" height="9.00" rx="1.5" fill="#000000"/>
<rect x="338.10" y="534.10" width="3.00" height="8.10" rx="1.5" fill="#000000"/>
<rect x="338.10" y="544.20" width="3.00" height="8.50" rx="1.5" fill="#000000"/>
<rect x="343.20" y="227.40" width="3.00" height="8.00" rx="1.5" fill="#000000"/>
<rect x="343.20" y="237.60" width="3.00" height="9.00" rx="1.5" fill="#000000"/>
<rect x="343.20" y="534.10" width="3.00" height="8.10" rx="1.5" fill="#000000"/>
<rect x="343.20" y="544.20" width="3.00" height="8.50" rx="1.5" fill="#000000"/>
<rect x="348.31" y="227.40" width="3.00" height="8.00" rx="1.5" fill="#000000"/>
<rect x="348.31" y="237.60" width="3.00" height="9.00" rx="1.5" fill="#000000"/>
<rect x="348.31" y="534.10" width="3.00" height="8.10" rx="1.5" fill="#000000"/>
<rect x="348.31" y="544.20" width="3.00" height="8.50" rx="1.5" fill="#000000"/>
<rect x="353.41" y="227.40" width="3.00" height="8.00" rx="1.5" fill="#000000"/>
<rect x="353.41" y="237.60" width="3.00" height="9.00" rx="1.5" fill="#000000"/>
<rect x="353.41" y="534.10" width="3.00" height="8.10" rx="1.5" fill="#000000"/>
<rect x="353.41" y="544.20" width="3.00" height="8.50" rx="1.5" fill="#000000"/>
<rect x="358.51" y="227.40" width="3.00" height="8.00" rx="1.5" fill="#000000"/>
<rect x="358.51" y="237.60" width="3.00" height="9.00" rx="1.5" fill="#000000"/>
<rect x="358.51" y="534.10" width="3.00" height="8.10" rx="1.5" fill="#000000"/>
<rect x="358.51" y="544.20" width="3.00" height="8.50" rx="1.5" fill="#000000"/>
<rect x="363.62" y="227.40" width="3.00" height="8.00" rx="1.5" fill="#000000"/>
<rect x="363.62" y="237.60" width="3.00" height="9.00" rx="1.5" fill="#000000"/>
<rect x="363.62" y="534.10" width="3.00" height="8.10" rx="1.5" fill="#000000"/>
<rect x="363.62" y="544.20" width="3.00" height="8.50" rx="1.5" fill="#000000"/>
<rect x="368.73" y="227.40" width="3.00" height="8.00" rx="1.5" fill="#000000"/>
<rect x="368.73" y="237.60" width="3.00" height="9.00" rx="1.5" fill="#000000"/>
<rect x="368.73" y="534.10" width="3.00" height="8.10" rx="1.5" fill="#000000"/>
<rect x="368.73" y="544.20" width="3.00" height="8.50" rx="1.5" fill="#000000"/>
<rect x="373.83" y="227.40" width="3.00" height="8.00" rx="1.5" fill="#000000"/>
<rect x="373.83" y="237.60" width="3.00" height="9.00" rx="1.5" fill="#000000"/>
<rect x="373.83" y="534.10" width="3.00" height="8.10" rx="1.5" fill="#000000"/>
<rect x="373.83" y="544.20" width="3.00" height="8.50" rx="1.5" fill="#000000"/>
<rect x="378.94" y="227.40" width="3.00" height="8.00" rx="1.5" fill="#000000"/>
<rect x="378.94" y="237.60" width="3.00" height="9.00" rx="1.5" fill="#000000"/>
<rect x="378.94" y="534.10" width="3.00" height="8.10" rx="1.5" fill="#000000"/>
<rect x="378.94" y="544.20" width="3.00" height="8.50" rx="1.5" fill="#000000"/>
<rect x="384.04" y="227.40" width="3.00" height="8.00" rx="1.5" fill="#000000"/>
<rect x="384.04" y="237.60" width="3.00" height="9.00" rx="1.5" fill="#000000"/>
<rect x="384.04" y="534.10" width="3.00" height="8.10" rx="1.5" fill="#000000"/>
<rect x="384.04" y="544.20" width="3.00" height="8.50" rx="1.5" fill="#000000"/>
<rect x="389.14" y="227.40" width="3.00" height="8.00" rx="1.5" fill="#000000"/>
<rect x="389.14" y="237.60" width="3.00" height="9.00" rx="1.5" fill="#000000"/>
<rect x="389.14" y="534.10" width="3.00" height="8.10" rx="1.5" fill="#000000"/>
<rect x="389.14" y="544.20" width="3.00" height="8.50" rx="1.5" fill="#000000"/>
<rect x="394.25" y="227.40" width="3.00" height="8.00" rx="1.5" fill="#000000"/>
<rect x="394.25" y="237.60" width="3.00" height="9.00" rx="1.5" fill="#000000"/>
<rect x="394.25" y="534.10" width="3.00" height="8.10" rx="1.5" fill="#000000"/>
<rect x="394.25" y="544.20" width="3.00" height="8.50" rx="1.5" fill="#000000"/>
<rect x="399.36" y="227.40" width="3.00" height="8.00" rx="1.5" fill="#000000"/>
<rect x="399.36" y="237.60" width="3.00" height="9.00" rx="1.5" fill="#000000"/>
<rect x="399.36" y="534.10" width="3.00" height="8.10" rx="1.5" fill="#000000"/>
<rect x="399.36" y="544.20" width="3.00" height="8.50" rx="1.5" fill="#000000"/>
<rect x="404.46" y="227.40" width="3.00" height="8.00" rx="1.5" fill="#000000"/>
<rect x="404.46" y="237.60" width="3.00" height="9.00" rx="1.5" fill="#000000"/>
<rect x="404.46" y="534.10" width="3.00" height="8.10" rx="1.5" fill="#000000"/>
<rect x="404.46" y="544.20" width="3.00" height="8.50" rx="1.5" fill="#000000"/>
<rect x="409.56" y="227.40" width="3.00" height="8.00" rx="1.5" fill="#000000"/>
<rect x="409.56" y="237.60" width="3.00" height="9.00" rx="1.5" fill="#000000"/>
<rect x="409.56" y="534.10" width="3.00" height="8.10" rx="1.5" fill="#000000"/>
<rect x="409.56" y="544.20" width="3.00" height="8.50" rx="1.5" fill="#000000"/>
<rect x="414.67" y="227.40" width="3.00" height="8.00" rx="1.5" fill="#000000"/>
<rect x="414.67" y="237.60" width="3.00" height="9.00" rx="1.5" fill="#000000"/>
<rect x="414.67" y="534.10" width="3.00" height="8.10" rx="1.5" fill="#000000"/>
<rect x="414.67" y="544.20" width="3.00" height="8.50" rx="1.5" fill="#000000"/>
<rect x="419.78" y="227.40" width="3.00" height="8.00" rx="1.5" fill="#000000"/>
<rect x="419.78" y="237.60" width="3.00" height="9.00" rx="1.5" fill="#000000"/>
<rect x="419.78" y="534.10" width="3.00" height="8.10" rx="1.5" fill="#000000"/>
<rect x="419.78" y="544.20" width="3.00" height="8.50" rx="1.5" fill="#000000"/>
<rect x="424.88" y="227.40" width="3.00" height="8.00" rx="1.5" fill="#000000"/>
<rect x="424.88" y="237.60" width="3.00" height="9.00" rx="1.5" fill="#000000"/>
<rect x="424.88" y="534.10" width="3.00" height="8.10" rx="1.5" fill="#000000"/>
<rect x="424.88" y="544.20" width="3.00" height="8.50" rx="1.5" fill="#000000"/>
<rect x="429.99" y="227.40" width="3.00" height="8.00" rx="1.5" fill="#000000"/>
<rect x="429.99" y="237.60" width="3.00" height="9.00" rx="1.5" fill="#000000"/>
<rect x="429.99" y="534.10" width="3.00" height="8.10" rx="1.5" fill="#000000"/>
<rect x="429.99" y="544.20" width="3.00" height="8.50" rx="1.5" fill="#000000"/>
<rect x="435.09" y="227.40" width="3.00" height="8.00" rx="1.5" fill="#000000"/>
<rect x="435.09" y="237.60" width="3.00" height="9.00" rx="1.5" fill="#000000"/>
<rect x="435.09" y="534.10" width="3.00" height="8.10" rx="1.5" fill="#000000"/>
<rect x="435.09" y="544.20" width="3.00" height="8.50" rx="1.5" fill="#000000"/>
<rect x="440.20" y="227.40" width="3.00" height="8.00" rx="1.5" fill="#000000"/>
<rect x="440.20" y="237.60" width="3.00" height="9.00" rx="1.5" fill="#000000"/>
<rect x="440.20" y="534.10" width="3.00" height="8.10" rx="1.5" fill="#000000"/>
<rect x="440.20" y="544.20" width="3.00" height="8.50" rx="1.5" fill="#000000"/>
<rect x="445.30" y="227.40" width="3.00" height="8.00" rx="1.5" fill="#000000"/>
<rect x="445.30" y="237.60" width="3.00" height="9.00" rx="1.5" fill="#000000"/>
<rect x="445.30" y="534.10" width="3.00" height="8.10" rx="1.5" fill="#000000"/>
<rect x="445.30" y="544.20" width="3.00" height="8.50" rx="1.5" fill="#000000"/>
<rect x="450.41" y="227.40" width="3.00" height="8.00" rx="1.5" fill="#000000"/>
<rect x="450.41" y="237.60" width="3.00" height="9.00" rx="1.5" fill="#000000"/>
<rect x="450.41" y="534.10" width="3.00" height="8.10" rx="1.5" fill="#000000"/>
<rect x="450.41" y="544.20" width="3.00" height="8.50" rx="1.5" fill="#000000"/>
<rect x="455.51" y="227.40" width="3.00" height="8.00" rx="1.5" fill="#000000"/>
<rect x="455.51" y="237.60" width="3.00" height="9.00" rx="1.5" fill="#000000"/>
<rect x="455.51" y="534.10" width="3.00" height="8.10" rx="1.5" fill="#000000"/>
<rect x="455.51" y="544.20" width="3.00" height="8.50" rx="1.5" fill="#000000"/>
<rect x="460.62" y="227.40" width="3.00" height="8.00" rx="1.5" fill="#000000"/>
<rect x="460.62" y="237.60" width="3.00" height="9.00" rx="1.5" fill="#000000"/>
<rect x="460.62" y="534.10" width="3.00" height="8.10" rx="1.5" fill="#000000"/>
<rect x="460.62" y="544.20" width="3.00" height="8.50" rx="1.5" fill="#000000"/>
<rect x="465.72" y="227.40" width="3.00" height="8.00" rx="1.5" fill="#000000"/>
<rect x="465.72" y="237.60" width="3.00" height="9.00" rx="1.5" fill="#000000"/>
<rect x="465.72" y="534.10" width="3.00" height="8.10" rx="1.5" fill="#000000"/>
<rect x="465.72" y="544.20" width="3.00" height="8.50" rx="1.5" fill="#000000"/>
<rect x="470.83" y="227.40" width="3.00" height="8.00" rx="1.5" fill="#000000"/>
<rect x="470.83" y="237.60" width="3.00" height="9.00" rx="1.5" fill="#000000"/>
<rect x="470.83" y="534.10" width="3.00" height="8.10" rx="1.5" fill="#000000"/>
<rect x="470.83" y="544.20" width="3.00" height="8.50" rx="1.5" fill="#000000"/>
<rect x="475.93" y="227.40" width="3.00" height="8.00" rx="1.5" fill="#000000"/>
<rect x="475.93" y="237.60" width="3.00" height="9.00" rx="1.5" fill="#000000"/>
<rect x="475.93" y="534.10" width="3.00" height="8.10" rx="1.5" fill="#000000"/>
<rect x="475.93" y="544.20" width="3.00" height="8.50" rx="1.5" fill="#000000"/>
<rect x="481.04" y="227.40" width="3.00" height="8.00" rx="1.5" fill="#000000"/>
<rect x="481.04" y="237.60" width="3.00" height="9.00" rx="1.5" fill="#000000"/>
<rect x="481.04" y="534.10" width="3.00" height="8.10" rx="1.5" fill="#000000"/>
<rect x="481.04" y="544.20" width="3.00" height="8.50" rx="1.5" fill="#000000"/>
<rect x="486.14" y="227.40" width="3.00" height="8.00" rx="1.5" fill="#000000"/>
<rect x="486.14" y="237.60" width="3.00" height="9.00" rx="1.5" fill="#000000"/>
<rect x="486.14" y="534.10" width="3.00" height="8.10" rx="1.5" fill="#000000"/>
<rect x="486.14" y="544.20" width="3.00" height="8.50" rx="1.5" fill="#000000"/>
<rect x="491.25" y="227.40" width="3.00" height="8.00" rx="1.5" fill="#000000"/>
<rect x="491.25" y="237.60" width="3.00" height="9.00" rx="1.5" fill="#000000"/>
<rect x="491.25" y="534.10" width="3.00" height="8.10" rx="1.5" fill="#000000"/>
<rect x="491.25" y="544.20" width="3.00" height="8.50" rx="1.5" fill="#000000"/>
<rect x="496.35" y="227.40" width="3.00" height="8.00" rx="1.5" fill="#000000"/>
<rect x="496.35" y="237.60" width="3.00" height="9.00" rx="1.5" fill="#000000"/>
<rect x="496.35" y="534.10" width="3.00" height="8.10" rx="1.5" fill="#000000"/>
<rect x="496.35" y="544.20" width="3.00" height="8.50" rx="1.5" fill="#000000"/>
<rect x="501.46" y="227.40" width="3.00" height="8.00" rx="1.5" fill="#000000"/>
<rect x="501.46" y="237.60" width="3.00" height="9.00" rx="1.5" fill="#000000"/>
<rect x="501.46" y="534.10" width="3.00" height="8.10" rx="1.5" fill="#000000"/>
<rect x="501.46" y="544.20" width="3.00" height="8.50" rx="1.5" fill="#000000"/>
<rect x="506.56" y="227.40" width="3.00" height="8.00" rx="1.5" fill="#000000"/>
<rect x="506.56" y="237.60" width="3.00" height="9.00" rx="1.5" fill="#000000"/>
<rect x="506.56" y="534.10" width="3.00" height="8.10" rx="1.5" fill="#000000"/>
<rect x="506.56" y="544.20" width="3.00" height="8.50" rx="1.5" fill="#000000"/>
<rect x="511.66" y="227.40" width="3.00" height="8.00" rx="1.5" fill="#000000"/>
<rect x="511.66" y="237.60" width="3.00" height="9.00" rx="1.5" fill="#000000"/>
<rect x="511.66" y="534.10" width="3.00" height="8.10" rx="1.5" fill="#000000"/>
<rect x="511.66" y="544.20" width="3.00" height="8.50" rx="1.5" fill="#000000"/>
<rect x="516.77" y="227.40" width="3.00" height="8.00" rx="1.5" fill="#000000"/>
<rect x="516.77" y="237.60" width="3.00" height="9.00" rx="1.5" fill="#000000"/>
<rect x="516.77" y="534.10" width="3.00" height="8.10" rx="1.5" fill="#000000"/>
<rect x="516.77" y="544.20" width="3.00" height="8.50" rx="1.5" fill="#000000"/>
<rect x="521.88" y="227.40" width="3.00" height="8.00" rx="1.5" fill="#000000"/>
<rect x="521.88" y="237.60" width="3.00" height="9.00" rx="1.5" fill="#000000"/>
<rect x="521.88" y="534.10" width="3.00" height="8.10" rx="1.5" fill="#000000"/>
<rect x="521.88" y="544.20" width="3.00" height="8.50" rx="1.5" fill="#000000"/>
<rect x="526.98" y="227.40" width="3.00" height="8.00" rx="1.5" fill="#000000"/>
<rect x="526.98" y="237.60" width="3.00" height="9.00" rx="1.5" fill="#000000"/>
<rect x="526.98" y="534.10" width="3.00" height="8.10" rx="1.5" fill="#000000"/>
<rect x="526.98" y="544.20" width="3.00" height="8.50" rx="1.5" fill="#000000"/>
<rect x="532.09" y="227.40" width="3.00" height="8.00" rx="1.5" fill="#000000"/>
<rect x="532.09" y="237.60" width="3.00" height="9.00" rx="1.5" fill="#000000"/>
<rect x="532.09" y="534.10" width="3.00" height="8.10" rx="1.5" fill="#000000"/>
<rect x="532.09" y="544.20" width="3.00" height="8.50" rx="1.5" fill="#000000"/>
<rect x="537.19" y="227.40" width="3.00" height="8.00" rx="1.5" fill="#000000"/>
<rect x="537.19" y="237.60" width="3.00" height="9.00" rx="1.5" fill="#000000"/>
<rect x="537.19" y="534.10" width="3.00" height="8.10" rx="1.5" fill="#000000"/>
<rect x="537.19" y="544.20" width="3.00" height="8.50" rx="1.5" fill="#000000"/>
<rect x="173.60" y="244.70" width="26.00" height="47.20" rx="1" fill="none" stroke="#ffff00" stroke-width="1.5"/>
<rect x="173.60" y="244.70" width="26.00" height="2.80" rx="0" fill="#ffff00"/>
<rect x="173.60" y="264.90" width="26.00" height="2.50" rx="0" fill="#ffff00"/>
<polygon points="178.60,266.60 180.60,269.20 178.60,271.80 176.60,269.20" fill="#ffff00"/>
<polygon points="186.50,266.70 188.50,269.30 186.50,271.90 184.50,269.30" fill="#ffff00"/>
<polygon points="191.40,268.10 193.40,270.70 191.40,273.30 189.40,270.70" fill="#ffff00"/>
<polygon points="194.40,266.20 196.40,268.80 194.40,271.40 192.40,268.80" fill="#ffff00"/>
<polygon points="182.80,271.20 184.80,273.80 182.80,276.40 180.80,273.80" fill="#ffff00"/>
<polygon points="181.20,276.40 183.20,279.00 181.20,281.60 179.20,279.00" fill="#ffff00"/>
<polygon points="189.60,275.10 191.60,277.70 189.60,280.30 187.60,277.70" fill="#ffff00"/>
<polygon points="194.40,274.30 196.40,276.90 194.40,279.50 192.40,276.90" fill="#ffff00"/>
<polygon points="178.60,281.90 180.60,284.50 178.60,287.10 176.60,284.50" fill="#ffff00"/>
<polygon points="194.40,281.60 196.40,284.20 194.40,286.80 192.40,284.20" fill="#ffff00"/>
<polygon points="186.50,253.40 188.70,256.20 186.50,259.00 184.30,256.20" fill="#ffff00"/>
<circle cx="186.50" cy="284.90" r="2.4" fill="#ffff00" stroke="#111" stroke-width="1.5"/>
<rect x="480.50" y="244.70" width="26.00" height="46.90" rx="1" fill="none" stroke="#ffff00" stroke-width="1.5"/>
<rect x="480.50" y="244.70" width="26.00" height="2.80" rx="0" fill="#ffff00"/>
<rect x="480.50" y="264.90" width="26.00" height="2.50" rx="0" fill="#ffff00"/>
<polygon points="485.50,266.60 487.50,269.20 485.50,271.80 483.50,269.20" fill="#ffff00"/>
<polygon points="493.40,266.70 495.40,269.30 493.40,271.90 491.40,269.30" fill="#ffff00"/>
<polygon points="498.30,268.10 500.30,270.70 498.30,273.30 496.30,270.70" fill="#ffff00"/>
<polygon points="501.30,266.20 503.30,268.80 501.30,271.40 499.30,268.80" fill="#ffff00"/>
<polygon points="489.70,271.20 491.70,273.80 489.70,276.40 487.70,273.80" fill="#ffff00"/>
<polygon points="488.10,276.40 490.10,279.00 488.10,281.60 486.10,279.00" fill="#ffff00"/>
<polygon points="496.50,275.10 498.50,277.70 496.50,280.30 494.50,277.70" fill="#ffff00"/>
<polygon points="501.30,274.30 503.30,276.90 501.30,279.50 499.30,276.90" fill="#ffff00"/>
<polygon points="485.50,281.90 487.50,284.50 485.50,287.10 483.50,284.50" fill="#ffff00"/>
<polygon points="501.30,281.60 503.30,284.20 501.30,286.80 499.30,284.20" fill="#ffff00"/>
<polygon points="493.40,253.40 495.60,256.20 493.40,259.00 491.20,256.20" fill="#ffff00"/>
<circle cx="493.40" cy="284.60" r="2.4" fill="#ffff00" stroke="#111" stroke-width="1.5"/>
<rect x="173.60" y="449.40" width="26.00" height="46.20" rx="1" fill="none" stroke="#ffff00" stroke-width="1.5"/>
<rect x="173.60" y="449.40" width="26.00" height="2.80" rx="0" fill="#ffff00"/>
<rect x="173.60" y="469.30" width="26.00" height="2.50" rx="0" fill="#ffff00"/>
<polygon points="178.60,471.30 180.60,473.90 178.60,476.50 176.60,473.90" fill="#ffff00"/>
<polygon points="186.50,471.40 188.50,474.00 186.50,476.60 184.50,474.00" fill="#ffff00"/>
<polygon points="191.40,472.80 193.40,475.40 191.40,478.00 189.40,475.40" fill="#ffff00"/>
<polygon points="194.40,470.90 196.40,473.50 194.40,476.10 192.40,473.50" fill="#ffff00"/>
<polygon points="182.80,475.90 184.80,478.50 182.80,481.10 180.80,478.50" fill="#ffff00"/>
<polygon points="181.20,481.10 183.20,483.70 181.20,486.30 179.20,483.70" fill="#ffff00"/>
<polygon points="189.60,479.80 191.60,482.40 189.60,485.00 187.60,482.40" fill="#ffff00"/>
<polygon points="194.40,479.00 196.40,481.60 194.40,484.20 192.40,481.60" fill="#ffff00"/>
<polygon points="178.60,486.60 180.60,489.20 178.60,491.80 176.60,489.20" fill="#ffff00"/>
<polygon points="194.40,486.30 196.40,488.90 194.40,491.50 192.40,488.90" fill="#ffff00"/>
<polygon points="186.50,457.60 188.70,460.40 186.50,463.20 184.30,460.40" fill="#ffff00"/>
<circle cx="186.50" cy="488.80" r="2.4" fill="#ffff00" stroke="#111" stroke-width="1.5"/>
<rect x="480.50" y="449.30" width="26.00" height="46.70" rx="1" fill="none" stroke="#ffff00" stroke-width="1.5"/>
<rect x="480.50" y="449.30" width="26.00" height="2.80" rx="0" fill="#ffff00"/>
<rect x="480.50" y="469.30" width="26.00" height="2.50" rx="0" fill="#ffff00"/>
<polygon points="485.50,471.20 487.50,473.80 485.50,476.40 483.50,473.80" fill="#ffff00"/>
<polygon points="493.40,471.30 495.40,473.90 493.40,476.50 491.40,473.90" fill="#ffff00"/>
<polygon points="498.30,472.70 500.30,475.30 498.30,477.90 496.30,475.30" fill="#ffff00"/>
<polygon points="501.30,470.80 503.30,473.40 501.30,476.00 499.30,473.40" fill="#ffff00"/>
<polygon points="489.70,475.80 491.70,478.40 489.70,481.00 487.70,478.40" fill="#ffff00"/>
<polygon points="488.10,481.00 490.10,483.60 488.10,486.20 486.10,483.60" fill="#ffff00"/>
<polygon points="496.50,479.70 498.50,482.30 496.50,484.90 494.50,482.30" fill="#ffff00"/>
<polygon points="501.30,478.90 503.30,481.50 501.30,484.10 499.30,481.50" fill="#ffff00"/>
<polygon points="485.50,486.50 487.50,489.10 485.50,491.70 483.50,489.10" fill="#ffff00"/>
<polygon points="501.30,486.20 503.30,488.80 501.30,491.40 499.30,488.80" fill="#ffff00"/>
<polygon points="493.40,457.70 495.60,460.50 493.40,463.30 491.20,460.50" fill="#ffff00"/>
<circle cx="493.40" cy="488.70" r="2.4" fill="#ffff00" stroke="#111" stroke-width="1.5"/>
<rect x="153.40" y="320.00" width="13.20" height="72.10" rx="0" fill="none" stroke="#333" stroke-width="1.3"/>
<rect x="153.40" y="320.00" width="13.20" height="9.40" rx="0" fill="none" stroke="#000000" stroke-width="1.6"/>
<rect x="153.40" y="382.70" width="13.20" height="9.40" rx="0" fill="none" stroke="#000000" stroke-width="1.6"/>
<circle cx="160.20" cy="325.40" r="2.5" fill="none" stroke="#000000" stroke-width="1.6"/>
<circle cx="160.20" cy="387.30" r="2.5" fill="none" stroke="#000000" stroke-width="1.6"/>
<rect x="512.70" y="320.00" width="13.20" height="72.10" rx="0" fill="none" stroke="#333" stroke-width="1.3"/>
<rect x="512.70" y="320.00" width="13.20" height="9.40" rx="0" fill="none" stroke="#000000" stroke-width="1.6"/>
<rect x="512.70" y="382.70" width="13.20" height="9.40" rx="0" fill="none" stroke="#000000" stroke-width="1.6"/>
<circle cx="519.50" cy="325.40" r="2.5" fill="none" stroke="#000000" stroke-width="1.6"/>
<circle cx="519.50" cy="387.30" r="2.5" fill="none" stroke="#000000" stroke-width="1.6"/>
<path d="M237.3,293.2 H441.3 V466.7 Q441.3,469.2 438.8,469.2 H239.8 Q237.3,469.2 237.3,466.7 Z" fill="none" stroke="#1a1a1a" stroke-width="1.3"/>
<rect x="248.30" y="304.00" width="183.00" height="154.90" rx="0" fill="none" stroke="#1a1a1a" stroke-width="1.3"/>
<circle cx="242.60" cy="298.40" r="1.5" fill="#000000" stroke="#000000" stroke-width="0.8"/>
<circle cx="436.50" cy="298.20" r="1.5" fill="#000000" stroke="#000000" stroke-width="0.8"/>
<circle cx="242.50" cy="464.30" r="1.5" fill="#000000" stroke="#000000" stroke-width="0.8"/>
<circle cx="436.40" cy="464.20" r="1.5" fill="#000000" stroke="#000000" stroke-width="0.8"/>
<path d="M266.40,458.9 V463.2 Q266.40,464.3 267.40,464.3 H269.00 Q270.00,464.3 270.00,463.2 V458.9" fill="none" stroke="#1a1a1a" stroke-width="1.1"/>
<path d="M280.30,458.9 V463.2 Q280.30,464.3 281.30,464.3 H289.70 Q290.70,464.3 290.70,463.2 V458.9" fill="none" stroke="#1a1a1a" stroke-width="1.1"/>
<path d="M299.10,458.9 V463.2 Q299.10,464.3 300.10,464.3 H317.80 Q318.80,464.3 318.80,463.2 V458.9" fill="none" stroke="#1a1a1a" stroke-width="1.1"/>
<path d="M319.40,458.9 V463.2 Q319.40,464.3 320.40,464.3 H322.00 Q323.00,464.3 323.00,463.2 V458.9" fill="none" stroke="#1a1a1a" stroke-width="1.1"/>
<path d="M326.60,458.9 V463.2 Q326.60,464.3 327.60,464.3 H345.20 Q346.20,464.3 346.20,463.2 V458.9" fill="none" stroke="#1a1a1a" stroke-width="1.1"/>
<path d="M351.50,458.9 V463.2 Q351.50,464.3 352.50,464.3 H356.70 Q357.70,464.3 357.70,463.2 V458.9" fill="none" stroke="#1a1a1a" stroke-width="1.1"/>
<path d="M368.00,458.9 V463.2 Q368.00,464.3 369.00,464.3 H375.50 Q376.50,464.3 376.50,463.2 V458.9" fill="none" stroke="#1a1a1a" stroke-width="1.1"/>
<path d="M378.20,458.9 V463.2 Q378.20,464.3 379.20,464.3 H385.60 Q386.60,464.3 386.60,463.2 V458.9" fill="none" stroke="#1a1a1a" stroke-width="1.1"/>
<line x1="302.00" y1="458.90" x2="302.00" y2="464.30" stroke="#1a1a1a" stroke-width="1.1"/>
<line x1="303.90" y1="458.90" x2="303.90" y2="464.30" stroke="#1a1a1a" stroke-width="1.1"/>
<line x1="321.00" y1="458.90" x2="321.00" y2="464.30" stroke="#1a1a1a" stroke-width="1.1"/>
<line x1="341.60" y1="458.90" x2="341.60" y2="464.30" stroke="#1a1a1a" stroke-width="1.1"/>
<line x1="343.20" y1="458.90" x2="343.20" y2="464.30" stroke="#1a1a1a" stroke-width="1.1"/>
<line x1="402.80" y1="459.60" x2="427.20" y2="459.60" stroke="#1a1a1a" stroke-width="1.6"/>
<line x1="30.30" y1="179.60" x2="649.00" y2="179.60" stroke="#ff0000" stroke-width="1.3"/>
<line x1="30.30" y1="179.60" x2="30.30" y2="216.10" stroke="#ff0000" stroke-width="1.3"/>
<line x1="649.00" y1="179.60" x2="649.00" y2="216.10" stroke="#ff0000" stroke-width="1.3"/>
<polygon points="30.30,179.60 39.80,177.60 39.80,181.60" fill="#ff0000"/>
<polygon points="649.00,179.60 639.50,181.60 639.50,177.60" fill="#ff0000"/>
<text x="339.60" y="179.80" text-anchor="middle" font-size="12.5" fill="#ff0000" textLength="33.2" lengthAdjust="spacingAndGlyphs">1211.5</text>
<line x1="160.20" y1="194.00" x2="519.30" y2="194.00" stroke="#ff0000" stroke-width="1.3"/>
<line x1="160.20" y1="194.00" x2="160.20" y2="325.00" stroke="#ff0000" stroke-width="1.3"/>
<line x1="519.30" y1="194.00" x2="519.30" y2="325.40" stroke="#ff0000" stroke-width="1.3"/>
<polygon points="160.20,194.00 169.70,192.00 169.70,196.00" fill="#ff0000"/>
<polygon points="519.30,194.00 509.80,196.00 509.80,192.00" fill="#ff0000"/>
<text x="340.10" y="193.50" text-anchor="middle" font-size="12.5" fill="#ff0000" textLength="20.8" lengthAdjust="spacingAndGlyphs">703</text>
<line x1="186.10" y1="207.10" x2="493.00" y2="207.10" stroke="#ff0000" stroke-width="1.3"/>
<line x1="186.30" y1="207.10" x2="186.30" y2="284.90" stroke="#ff0000" stroke-width="1.3"/>
<line x1="492.80" y1="207.10" x2="492.80" y2="284.60" stroke="#ff0000" stroke-width="1.3"/>
<polygon points="186.10,207.10 195.60,205.10 195.60,209.10" fill="#ff0000"/>
<polygon points="493.00,207.10 483.50,209.10 483.50,205.10" fill="#ff0000"/>
<text x="339.60" y="207.00" text-anchor="middle" font-size="12.5" fill="#ff0000" textLength="20.4" lengthAdjust="spacingAndGlyphs">600</text>
<line x1="237.20" y1="267.50" x2="441.50" y2="267.50" stroke="#ff0000" stroke-width="1.3"/>
<line x1="237.20" y1="267.50" x2="237.20" y2="293.20" stroke="#ff0000" stroke-width="1.3"/>
<line x1="441.50" y1="267.50" x2="441.50" y2="293.20" stroke="#ff0000" stroke-width="1.3"/>
<polygon points="237.20,267.50 246.70,265.50 246.70,269.50" fill="#ff0000"/>
<polygon points="441.50,267.50 432.00,269.50 432.00,265.50" fill="#ff0000"/>
<text x="339.90" y="267.40" text-anchor="middle" font-size="12.5" fill="#ff0000" textLength="20" lengthAdjust="spacingAndGlyphs">400</text>
<line x1="248.20" y1="285.20" x2="431.40" y2="285.20" stroke="#ff0000" stroke-width="1.3"/>
<line x1="248.20" y1="285.20" x2="248.20" y2="304.00" stroke="#ff0000" stroke-width="1.3"/>
<line x1="431.40" y1="285.20" x2="431.40" y2="304.00" stroke="#ff0000" stroke-width="1.3"/>
<polygon points="248.20,285.20 257.70,283.20 257.70,287.20" fill="#ff0000"/>
<polygon points="431.40,285.20 421.90,287.20 421.90,283.20" fill="#ff0000"/>
<text x="339.80" y="284.80" text-anchor="middle" font-size="12.5" fill="#ff0000" textLength="22" lengthAdjust="spacingAndGlyphs">358</text>
<line x1="141.30" y1="284.70" x2="141.30" y2="488.90" stroke="#ff0000" stroke-width="1.3"/>
<line x1="141.30" y1="284.70" x2="186.40" y2="284.70" stroke="#ff0000" stroke-width="1.3"/>
<line x1="141.30" y1="488.90" x2="186.40" y2="488.90" stroke="#ff0000" stroke-width="1.3"/>
<polygon points="141.30,284.70 143.30,294.20 139.30,294.20" fill="#ff0000"/>
<polygon points="141.30,488.90 139.30,479.40 143.30,479.40" fill="#ff0000"/>
<text x="0" y="0" transform="translate(141.50,386.80) rotate(-90)" text-anchor="middle" font-size="12.5" fill="#ff0000" textLength="21" lengthAdjust="spacingAndGlyphs">400</text>
<line x1="431.40" y1="304.00" x2="452.10" y2="304.00" stroke="#ff0000" stroke-width="1.3"/>
<line x1="431.40" y1="459.00" x2="452.10" y2="459.00" stroke="#ff0000" stroke-width="1.3"/>
<line x1="452.10" y1="304.00" x2="452.10" y2="459.00" stroke="#ff0000" stroke-width="1.3"/>
<polygon points="452.10,304.00 454.10,313.50 450.10,313.50" fill="#ff0000"/>
<polygon points="452.10,459.00 450.10,449.50 454.10,449.50" fill="#ff0000"/>
<text x="0" y="0" transform="translate(451.90,381.00) rotate(-90)" text-anchor="middle" font-size="12.5" fill="#ff0000" textLength="22" lengthAdjust="spacingAndGlyphs">303</text>
<line x1="431.40" y1="293.20" x2="467.90" y2="293.20" stroke="#ff0000" stroke-width="1.3"/>
<line x1="431.40" y1="469.40" x2="467.90" y2="469.40" stroke="#ff0000" stroke-width="1.3"/>
<line x1="467.90" y1="293.20" x2="467.90" y2="469.40" stroke="#ff0000" stroke-width="1.3"/>
<polygon points="467.90,293.20 469.90,302.70 465.90,302.70" fill="#ff0000"/>
<polygon points="467.90,469.40 465.90,459.90 469.90,459.90" fill="#ff0000"/>
<text x="0" y="0" transform="translate(467.60,381.00) rotate(-90)" text-anchor="middle" font-size="12.5" fill="#ff0000" textLength="22" lengthAdjust="spacingAndGlyphs">345</text>
<line x1="480.50" y1="291.40" x2="480.50" y2="312.80" stroke="#ff0000" stroke-width="1.3"/>
<line x1="505.60" y1="291.40" x2="505.60" y2="312.80" stroke="#ff0000" stroke-width="1.3"/>
<line x1="480.50" y1="312.30" x2="505.60" y2="312.30" stroke="#ff0000" stroke-width="1.3"/>
<polygon points="480.50,312.30 490.00,310.30 490.00,314.30" fill="#ff0000"/>
<polygon points="505.60,312.30 496.10,314.30 496.10,310.30" fill="#ff0000"/>
<text x="492.60" y="311.20" text-anchor="middle" font-size="12.5" fill="#ff0000" textLength="15.5" lengthAdjust="spacingAndGlyphs">49</text>
<line x1="649.00" y1="216.10" x2="683.80" y2="216.10" stroke="#ff0000" stroke-width="1.3"/>
<line x1="649.00" y1="564.80" x2="683.80" y2="564.80" stroke="#ff0000" stroke-width="1.3"/>
<line x1="683.80" y1="216.10" x2="683.80" y2="564.80" stroke="#ff0000" stroke-width="1.3"/>
<polygon points="683.80,216.10 685.80,225.60 681.80,225.60" fill="#ff0000"/>
<polygon points="683.80,564.80 681.80,555.30 685.80,555.30" fill="#ff0000"/>
<text x="0" y="0" transform="translate(683.50,390.40) rotate(-90)" text-anchor="middle" font-size="12.5" fill="#ff0000" textLength="34.3" lengthAdjust="spacingAndGlyphs">682.3</text>
<rect x="716.30" y="216.50" width="19.60" height="348.30" rx="0" fill="none" stroke="#ffff00" stroke-width="1.6"/>
<line x1="735.90" y1="216.60" x2="754.00" y2="216.60" stroke="#000000" stroke-width="1.8"/>
<line x1="735.90" y1="564.60" x2="755.00" y2="564.60" stroke="#000000" stroke-width="1.8"/>
<line x1="748.60" y1="216.50" x2="748.60" y2="564.80" stroke="#000000" stroke-width="2"/>
<line x1="754.10" y1="216.50" x2="754.10" y2="564.80" stroke="#000000" stroke-width="2"/>
<rect x="754.10" y="304.30" width="25.30" height="154.10" rx="0" fill="none" stroke="#1a1a1a" stroke-width="1.2"/>
<polyline points="754.00,320.10 762.70,320.10 774.50,328.50 774.50,383.30 762.40,392.00 754.00,392.00" fill="none" stroke="#444" stroke-width="1.4" stroke-linejoin="miter"/>
<polyline points="754.00,331.40 770.70,331.40 770.70,380.80 754.00,380.80" fill="none" stroke="#444" stroke-width="1.6" stroke-linejoin="miter"/>
<rect x="760.30" y="458.40" width="7.10" height="5.50" rx="0" fill="none" stroke="#1a1a1a" stroke-width="1.1"/>
<polyline points="754.00,495.60 754.00,467.70 780.70,467.70 780.70,449.40 804.50,449.40 804.50,469.70" fill="none" stroke="#ffff00" stroke-width="2.4" stroke-linejoin="miter"/>
<polyline points="754.00,291.80 754.00,263.70 779.70,263.70" fill="none" stroke="#ffff00" stroke-width="2.4" stroke-linejoin="miter"/>
<polyline points="781.40,263.70 781.40,245.80 804.50,245.80 804.50,263.70" fill="none" stroke="#ffff00" stroke-width="2.4" stroke-linejoin="miter"/>
<line x1="716.40" y1="189.50" x2="805.20" y2="189.50" stroke="#ff0000" stroke-width="1.3"/>
<line x1="716.40" y1="189.50" x2="716.40" y2="216.50" stroke="#ff0000" stroke-width="1.3"/>
<line x1="753.50" y1="189.50" x2="753.50" y2="291.80" stroke="#cc0000" stroke-width="1.2"/>
<line x1="805.20" y1="189.50" x2="805.20" y2="275.90" stroke="#ff0000" stroke-width="1.3"/>
<polygon points="716.40,189.50 725.90,187.50 725.90,191.50" fill="#ff0000"/>
<polygon points="753.50,189.50 744.00,191.50 744.00,187.50" fill="#ff0000"/>
<polygon points="753.50,189.50 763.00,187.50 763.00,191.50" fill="#ff0000"/>
<polygon points="805.20,189.50 795.70,191.50 795.70,187.50" fill="#ff0000"/>
<text x="734.90" y="189.20" text-anchor="middle" font-size="12.5" fill="#ff0000" textLength="24.5" lengthAdjust="spacingAndGlyphs">73.7</text>
<text x="779.50" y="189.20" text-anchor="middle" font-size="12.5" fill="#ff0000" textLength="16.3" lengthAdjust="spacingAndGlyphs">101</text>
<line x1="684.00" y1="203.80" x2="736.30" y2="203.80" stroke="#ff0000" stroke-width="1.3"/>
<line x1="736.30" y1="203.80" x2="736.30" y2="216.50" stroke="#ff0000" stroke-width="1.3"/>
<polygon points="716.60,203.80 724.60,201.80 724.60,205.80" fill="#ff0000"/>
<polygon points="736.30,203.80 728.30,205.80 728.30,201.80" fill="#ff0000"/>
<text x="696.30" y="203.80" text-anchor="middle" font-size="12.5" fill="#ff0000" textLength="25" lengthAdjust="spacingAndGlyphs">38.7</text>
<line x1="753.50" y1="216.50" x2="779.70" y2="216.50" stroke="#ff0000" stroke-width="1.3"/>
<line x1="779.70" y1="216.50" x2="779.70" y2="304.30" stroke="#ff0000" stroke-width="1.3"/>
<polygon points="753.50,216.50 763.00,214.50 763.00,218.50" fill="#ff0000"/>
<polygon points="779.70,216.50 770.20,218.50 770.20,214.50" fill="#ff0000"/>
<text x="766.80" y="216.00" text-anchor="middle" font-size="12.5" fill="#ff0000" textLength="13.9" lengthAdjust="spacingAndGlyphs">50</text>
<line x1="804.20" y1="245.50" x2="821.40" y2="245.50" stroke="#ff0000" stroke-width="1.3"/>
<line x1="804.20" y1="265.30" x2="821.40" y2="265.30" stroke="#ff0000" stroke-width="1.3"/>
<line x1="821.20" y1="245.50" x2="821.20" y2="265.30" stroke="#ff0000" stroke-width="1.3"/>
<polygon points="821.20,245.50 823.20,255.00 819.20,255.00" fill="#ff0000"/>
<polygon points="821.20,265.30 819.20,255.80 823.20,255.80" fill="#ff0000"/>
<text x="0" y="0" transform="translate(819.80,254.90) rotate(-90)" text-anchor="middle" font-size="12.5" fill="#ff0000" textLength="14.6" lengthAdjust="spacingAndGlyphs">40</text>
<line x1="780.70" y1="263.70" x2="780.70" y2="276.00" stroke="#ff0000" stroke-width="1.3"/>
<line x1="780.70" y1="275.90" x2="826.80" y2="275.90" stroke="#ff0000" stroke-width="1.3"/>
<polygon points="780.70,275.90 790.20,273.90 790.20,277.90" fill="#ff0000"/>
<polygon points="804.20,275.90 794.70,277.90 794.70,273.90" fill="#ff0000"/>
<polygon points="804.20,275.90 813.70,273.90 813.70,277.90" fill="#ff0000"/>
<text x="792.90" y="274.90" text-anchor="middle" font-size="12.5" fill="#ff0000" textLength="15" lengthAdjust="spacingAndGlyphs">43</text>
<text x="824.50" y="274.90" text-anchor="middle" font-size="12.5" fill="#ff0000" textLength="7" lengthAdjust="spacingAndGlyphs">3</text>
<rect x="0.00" y="570.60" width="1.30" height="1.40" rx="0" fill="#000000"/>
</svg>
</body></html>
